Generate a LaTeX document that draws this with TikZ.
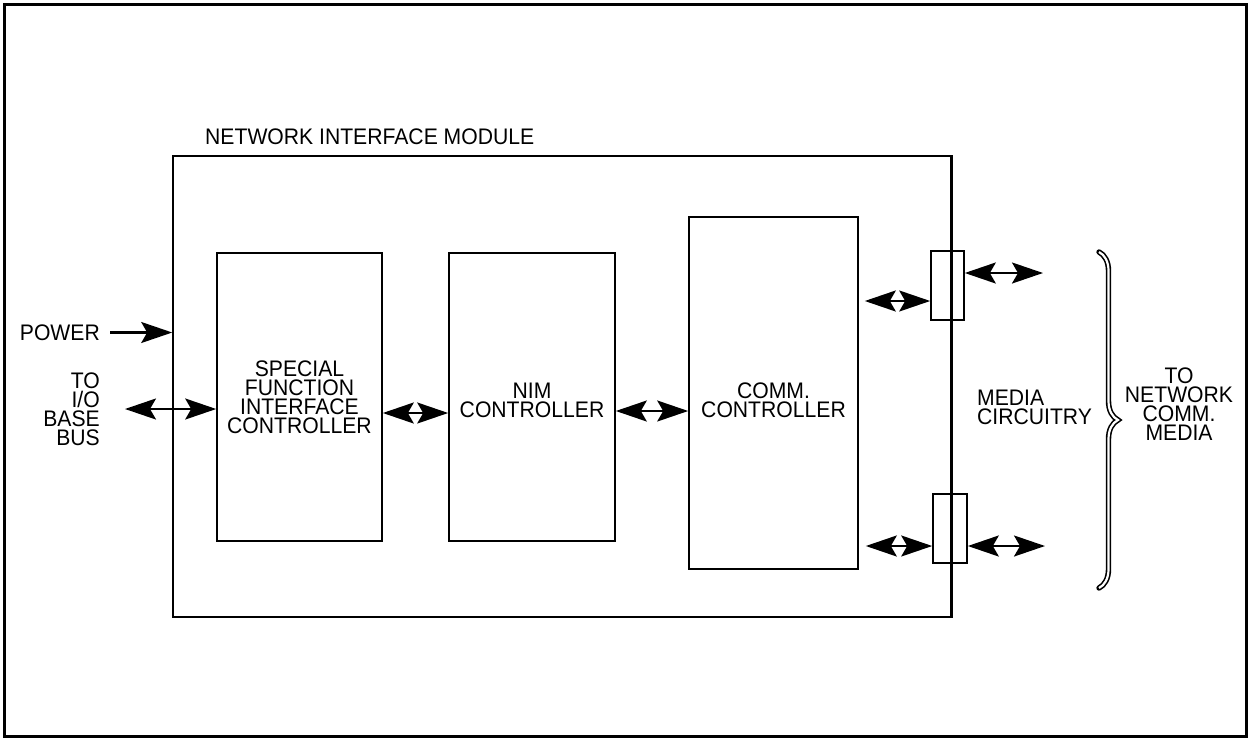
\documentclass[tikz,border=0pt]{standalone}
\usepackage{fontspec}
\setmainfont[FakeStretch=0.94]{Liberation Sans}
\usetikzlibrary{arrows.meta,decorations.pathreplacing}
\begin{document}
\begin{tikzpicture}[x=1pt,y=-1pt,
  every node/.style={font=\fontsize{22.5}{19}\selectfont, inner sep=0pt},
  box/.style={draw, line width=1.6pt},
  tip/.tip={Stealth[length=31pt,width=21pt,inset=6pt]},
  biarrow/.style={line width=2.2pt, tip-tip},
  onearrow/.style={line width=2.2pt, -tip}]
\useasboundingbox (0,0) rectangle (1249,739);
\draw[line width=3pt] (4,4) rectangle (1246,736);

% module
\node[box, minimum width=778pt, minimum height=461pt] (nim) at (562,386.5) {};
\node[anchor=west] (title) at (205,136.5) {NETWORK INTERFACE MODULE};

% inner boxes
\node[box, minimum width=165pt, minimum height=288pt] (sfic) at (299.5,397) {};
\node[align=center] (sficT) at (299.5,397.5) {SPECIAL\\FUNCTION\\INTERFACE\\CONTROLLER};
\node[box, minimum width=166pt, minimum height=288pt] (nimc) at (532,397) {};
\node[align=center] (nimcT) at (532,400) {NIM\\CONTROLLER};
\node[box, minimum width=169pt, minimum height=352pt] (comm) at (773.5,393) {};
\node[align=center] (commT) at (773.5,400) {COMM.\\CONTROLLER};

% connectors on module edge
\node[box, minimum width=33pt, minimum height=69pt] (conA) at (947.5,285.5) {};
\node[box, minimum width=34pt, minimum height=69pt] (conB) at (950,528.5) {};
\draw[line width=1.6pt] (nim.north east) -- (nim.south east);

% left labels
\node[anchor=east] (power) at (100,332.5) {POWER};
\node[anchor=east, align=right] (tobus) at (100,409) {TO\\I/O\\BASE\\BUS};
\draw[onearrow] ([xshift=10pt]power.east) -- (power.east -| nim.west);
\draw[biarrow] ([xshift=25pt]tobus.east) -- (tobus.east -| sfic.west);

% internal arrows
\draw[biarrow] (sfic.east |- 0,413) -- (nimc.west |- 0,413);
\draw[biarrow] (nimc.east |- 0,411) -- (comm.west |- 0,411);
\draw[biarrow, shorten <=6pt] (comm.east |- 0,301) -- (conA.west |- 0,301);
\draw[biarrow, shorten <=7pt] (comm.east |- 0,546) -- (conB.west |- 0,546);

% outgoing arrows
\coordinate (outA) at (1043,273);
\coordinate (outB) at (1045,546);
\draw[biarrow] (conA.east |- outA) -- (outA);
\draw[biarrow] (conB.east |- outB) -- (outB);

% right labels
\node[anchor=west, align=left] (media) at (977,407.5) {MEDIA\\CIRCUITRY};
\coordinate (brTop) at (1099,252);
\coordinate (brBot) at (1099,588);
\draw[decorate, decoration={brace, amplitude=19pt}, line width=5.4pt, line cap=round] (brTop) -- (brBot);
\draw[decorate, decoration={brace, amplitude=19pt}, line width=2.2pt, white] (brTop) -- (brBot);
\node[align=center] (tonet) at (1179,404) {TO\\NETWORK\\COMM.\\MEDIA};
\end{tikzpicture}
\end{document}
